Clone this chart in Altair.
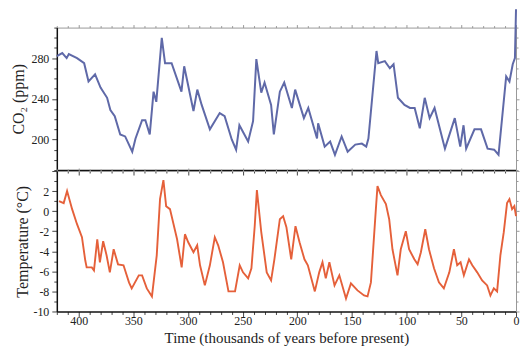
import altair as alt
import pandas as pd

# CO2 (ppm) vs time (thousands of years before present)
co2_t = [420, 415, 411, 409, 401.5, 395, 391, 385, 380, 374, 371, 367, 362, 357.5, 351,
         348, 342, 339, 335, 331.5, 329, 324, 321, 315, 306, 303.5, 295, 291.5, 287.5, 280,
         271, 266.5, 260, 256, 253, 245, 240.5, 237.5, 233, 230, 224, 221.5, 216, 212, 205,
         202, 194, 190, 182, 181, 175, 170, 165.6, 159.5, 154, 147, 141, 137, 135, 127.6,
         126, 120, 115.4, 112, 108, 102, 97, 92.7, 88, 83.5, 79, 74.5, 65, 56, 51,
         48, 45.6, 38, 32, 26, 20, 16, 9, 6, 3, 1, 0]
co2_v = [282, 285, 280, 284, 280, 275, 257, 264, 251, 241, 229, 223, 205, 203, 188,
         201, 219, 219, 205, 247, 237, 300, 275, 275, 247, 272, 228, 249, 234, 210,
         226, 223, 200, 190, 214, 198, 218, 279, 246, 256, 234, 205, 247, 256, 231,
         249, 221, 231, 201, 216, 193, 198, 185, 203, 188, 195, 196, 193, 201, 287,
         275, 277, 270, 274, 241, 234, 231, 231, 211, 241, 221, 231, 191, 221, 193,
         214, 191, 210, 210, 191, 190, 185, 262, 257, 274, 280, 328]

# Temperature anomaly (°C) vs time
temp_t = [418, 413.7, 410.6, 406, 401.5, 397, 394, 392.7, 388, 386, 383, 380.6, 377.6, 374.5, 371.5,
          368, 364, 359, 354, 351.5, 345, 342, 337.7, 333, 328.6, 325.6, 322.5, 320, 316.5, 310,
          305.8, 302.8, 299.8, 295, 291.6, 289, 284.6, 280, 275.5, 272.4, 268, 263, 257, 252.7, 249.7,
          245, 242, 239, 237, 233, 228, 224, 221, 216, 213, 210, 205.6, 201.7, 198, 193.5,
          190.4, 184, 180, 177, 174, 170.7, 166, 161.6, 155.5, 151, 145, 139, 135.8, 132.7, 128,
          126.7, 123.6, 119, 116, 113, 108.4, 105.4, 100.8, 97.8, 93, 90, 87, 83, 79.6, 75,
          70.5, 66, 61, 56.8, 53.8, 50.7, 47.7, 43, 40, 35.5, 31, 26.4, 23.4, 20.3, 17.3,
          14.3, 11.2, 8.2, 6, 3.6, 1.5, 0]
temp_v = [1.0, 0.8, 2.0, 0.2, -1.3, -2.6, -4.9, -5.6, -5.6, -5.9, -2.8, -5.1, -3.0, -4.4, -6.1,
          -3.8, -5.3, -5.4, -7.1, -7.7, -6.4, -6.4, -7.7, -8.5, -4.4, 1.2, 3.1, 0.5, 0.2, -2.8,
          -5.6, -2.3, -3.1, -4.1, -3.4, -5.4, -7.4, -5.4, -2.6, -3.4, -5.1, -8.0, -8.0, -5.4, -6.1,
          -6.7, -5.7, -1.5, 2.1, -2.1, -6.1, -6.9, -4.8, -0.8, -0.5, -1.6, -4.8, -1.5, -3.1, -4.8,
          -5.4, -8.0, -6.1, -5.1, -6.7, -5.1, -7.4, -6.4, -8.7, -7.2, -7.9, -8.4, -8.5, -7.1, 0.5,
          2.5, 1.6, 0.7, -0.8, -3.8, -6.4, -3.8, -2.0, -3.8, -4.8, -5.3, -4.1, -1.8, -3.8, -5.7,
          -7.1, -7.7, -6.1, -3.8, -5.4, -5.1, -6.4, -4.8, -5.4, -6.1, -6.9, -7.4, -8.4, -7.7, -8.0,
          -4.4, -2.1, 0.8, 1.2, 0.2, 0.5, -0.5]

x_ticks = list(range(0, 421, 10))
co2_ticks = list(range(170, 311, 10))
temp_ticks = list(range(-10, 5, 1))

co2_df = pd.DataFrame({"t": co2_t, "co2": co2_v})
temp_df = pd.DataFrame({"t": temp_t, "temp": temp_v})

FONT = "Liberation Serif"
W = 461

xscale = alt.Scale(domain=[0, 420], reverse=True, nice=False, zero=False)
co2_scale = alt.Scale(domain=[170, 310], nice=False, zero=False)
temp_scale = alt.Scale(domain=[-10, 4], nice=False, zero=False)


def tsize(test, big=6, small=3):
    return {"condition": {"test": test, "value": big}, "value": small}


def x_axis(orient, labels, title=None, dark=True):
    kw = dict(orient=orient, values=x_ticks, labels=labels, grid=False,
              tickSize=tsize("datum.value % 50 === 0", 5, 3) if dark else tsize("datum.value % 50 === 0", 3, 2),
              tickColor="#444" if dark else "#999",
              domainColor="#111" if dark else "#999", domainWidth=1.5 if dark else 1,
              labelFlush=False, labelOverlap=False, labelPadding=-1,
              labelExpr="datum.value % 50 === 0 ? datum.label : ''")
    if title:
        kw["title"] = title
        kw["titlePadding"] = 4
        kw["titleFontSize"] = 15
    else:
        kw["title"] = None
    return alt.Axis(**kw)


def y_axis(orient, values, test, title=None, label_test=None, dark=True, title_pad=8):
    kw = dict(orient=orient, values=values, grid=False,
              tickSize=tsize(test, 5, 3) if dark else tsize(test, 3, 2),
              tickColor="#444" if dark else "#999",
              domainColor="#111" if dark else "#999", domainWidth=1.5 if dark else 1,
              labelOverlap=False, labelPadding=3, labels=label_test is not None)
    if label_test is not None:
        kw["labelExpr"] = f"{label_test} ? replace(datum.label, '\u2212', '-') : ''"
    if title:
        kw["title"] = title
        kw["titlePadding"] = title_pad
        kw["titleFontSize"] = 16
    else:
        kw["title"] = None
    return alt.Axis(**kw)


co2_line = alt.Chart(co2_df).mark_line(color="#5f69a8", strokeWidth=2, clip=False).encode(
    x=alt.X("t:Q", scale=xscale, axis=x_axis("bottom", False)),
    y=alt.Y("co2:Q", scale=co2_scale,
            axis=y_axis("left", co2_ticks, "datum.value % 40 === 0", "CO₂ (ppm)",
                        "datum.value % 40 === 0", title_pad=4.5)),
)
co2_frame = alt.Chart(co2_df).mark_line(opacity=0, clip=True).encode(
    x=alt.X("t:Q", scale=xscale, axis=x_axis("top", False, dark=False)),
    y=alt.Y("co2:Q", scale=co2_scale, axis=y_axis("right", co2_ticks, "datum.value % 40 === 0", dark=False)),
)
top = alt.layer(co2_frame, co2_line).resolve_axis(x="independent", y="independent").properties(width=W, height=143)

temp_line = alt.Chart(temp_df).mark_line(color="#e5603a", strokeWidth=1.9).encode(
    x=alt.X("t:Q", scale=xscale, axis=x_axis("bottom", True, "Time (thousands of years before present)")),
    y=alt.Y("temp:Q", scale=temp_scale,
            axis=y_axis("left", temp_ticks, "datum.value % 2 === 0", "Temperature (°C)",
                        "datum.value % 2 === 0 && datum.value < 3", title_pad=2)),
)
temp_frame = alt.Chart(temp_df).mark_line(opacity=0).encode(
    x=alt.X("t:Q", scale=xscale, axis=x_axis("top", False, dark=False)),
    y=alt.Y("temp:Q", scale=temp_scale, axis=y_axis("right", temp_ticks, "datum.value % 2 === 0", dark=False)),
)
bottom = alt.layer(temp_frame, temp_line).resolve_axis(x="independent", y="independent").properties(width=W, height=141)

chart = alt.vconcat(top, bottom, spacing=1, bounds="flush").properties(
    padding={"left": 2, "top": -4, "right": 0, "bottom": 0},
    background="white",
).configure_axis(
    labelFont=FONT, titleFont=FONT, labelFontSize=12, titleFontSize=14.5,
    titleFontWeight="normal", labelColor="#222", titleColor="#222",
).configure_view(stroke=None)

chart.save("out.html", embed_options={"renderer": "svg", "actions": False})
